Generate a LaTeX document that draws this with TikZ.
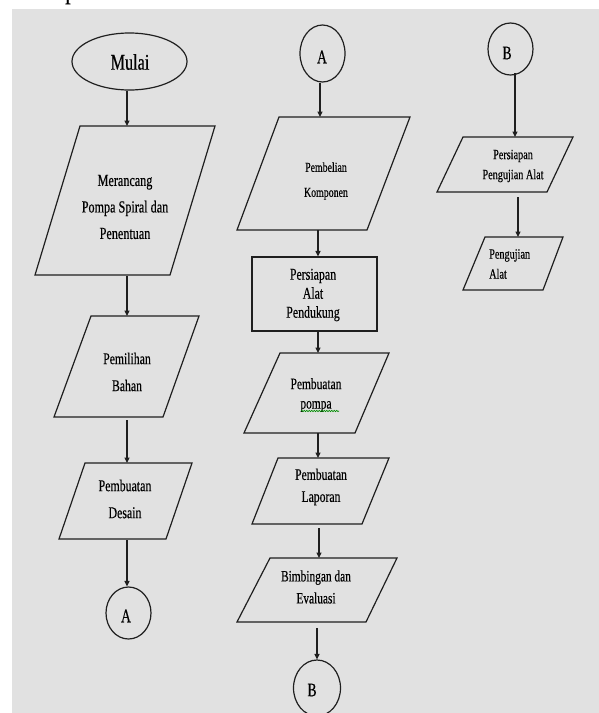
\documentclass[tikz,border=0pt]{standalone}
\usepackage{fontspec}
\setmainfont{Liberation Serif}[FakeStretch=0.72,FakeBold=0.35]
\usetikzlibrary{arrows.meta,shapes.geometric,decorations.pathmorphing}
\newcommand\fsz[2]{\fontsize{#1}{#2}\selectfont}
\newcommand\flowpara[6]{\draw[ln] (#1,#3) -- (#2,#3) -- (#5,#6) -- (#4,#6) -- cycle;}
\definecolor{bggray}{HTML}{E1E1E1}
\tikzset{
  ln/.style={line width=1.2pt, draw=black!88, line join=miter},
  arr/.style={line width=1.2pt, draw=black!88, -{Triangle[length=5.5pt,width=5pt]}},
  txt/.style={align=center, inner sep=0pt, text=black},
  conn/.style={ellipse, ln, inner sep=0pt},
}
\begin{document}
\begin{tikzpicture}[x=1pt,y=-1pt]
\useasboundingbox (0,0) rectangle (599,713);
\fill[white] (0,0) rectangle (599,713);
\fill[bggray] (12,9) rectangle (599,713);
\begin{scope}
\clip (0,0) rectangle (599,9);
\node[anchor=base west, inner sep=0pt, font=\fsz{30}{32}] (ptop) at (65,-2) {p};
\end{scope}

% ---------- left column ----------
\node[conn, minimum width=115pt, minimum height=57pt] (mulai) at (129.5,61.5) {};
\node[txt, font=\fsz{22.5}{24}] (tmulai) at (130,62) {Mulai};

\flowpara{80}{215}{126}{35}{170}{275}
\coordinate (p1t) at (127,126);
\coordinate (p1b) at (127,276);
\node[txt, font=\fsz{16.9}{26.5}] (t1) at (125,207) {Merancang\\Pompa Spiral dan\\Penentuan};

\flowpara{91}{199}{316}{54}{163}{417}
\coordinate (p2t) at (127,316);
\coordinate (p2b) at (127,420);
\node[txt, font=\fsz{16.3}{27}] (t2) at (127,372) {Pemilihan\\Bahan};

\flowpara{85}{192}{463}{59}{166}{539}
\coordinate (p3t) at (127,463);
\coordinate (p3b) at (127,540);
\node[txt, font=\fsz{16.5}{27}] (t3) at (125,499) {Pembuatan\\Desain};

\node[conn, minimum width=45pt, minimum height=52pt] (ca1) at (128.5,613) {};
\node[txt, font=\fsz{19}{20}] (ta1) at (126,616) {A};

\draw[arr] (p1t |- mulai.south) -- (p1t);
\draw[arr] (p1b) -- (p2t);
\draw[arr] (p2b) -- (p3t);
\draw[arr] (p3b) -- (p3b |- ca1.north);

% ---------- middle column ----------
\node[conn, minimum width=45pt, minimum height=57pt] (ca2) at (322.5,53.5) {};
\node[txt, font=\fsz{19}{20}] (ta2) at (322,57) {A};

\flowpara{279}{410}{117}{237}{367}{230}
\coordinate (p4t) at (320,117);
\coordinate (p4b) at (318,230);
\node[txt, font=\fsz{13.7}{25}] (t4) at (326,181) {Pembelian\\Komponen};

\node[ln, draw, minimum width=125pt, minimum height=74pt, inner sep=0pt] (rect) at (314.5,294) {};
\node[txt, font=\fsz{16.5}{19}] (t5) at (313,295) {Persiapan\\Alat\\Pendukung};

\flowpara{280}{389}{353}{244}{355}{433}
\coordinate (p5t) at (318,353);
\coordinate (p5b) at (318,433);
\node[txt, font=\fsz{15.9}{19.5}] (t6) at (316,395) {Pembuatan\\pompa};
\draw[green!55!black, line width=0.6pt, decorate, decoration={snake, amplitude=0.7pt, segment length=2.5pt}] (301,411) -- (339,411);

\flowpara{278}{389}{458}{252}{362}{524}
\coordinate (p6t) at (318,458);
\coordinate (p6b) at (319,528);
\node[txt, font=\fsz{16.2}{22}] (t7) at (321,487) {Pembuatan\\Laporan};

\flowpara{270}{397}{558}{237}{366}{622}
\coordinate (p7t) at (319,558);
\coordinate (p7b) at (317,628);
\node[txt, font=\fsz{15.8}{22}] (t8) at (316,587) {Bimbingan dan\\Evaluasi};

\node[conn, minimum width=47pt, minimum height=56pt] (cb1) at (317,688) {};
\node[txt, font=\fsz{19}{20}] (tb1) at (312,690) {B};

\draw[arr] (ca2.south -| p4t) -- (p4t);
\draw[arr] (p4b) -- (p4b |- rect.north);
\draw[arr] (p5t |- rect.south) -- (p5t);
\draw[arr] (p5b) -- (p6t);
\draw[arr] (p6b) -- (p7t);
\draw[arr] (p7b) -- (p7b |- cb1.north);

% ---------- right column ----------
\node[conn, minimum width=45pt, minimum height=52pt] (cb2) at (510.5,49) {};
\node[txt, font=\fsz{19}{20}] (tb2) at (507,53) {B};

\flowpara{463}{573}{137}{437}{547}{192}
\coordinate (p8t) at (515,137);
\coordinate (p8b) at (518,197);
\node[txt, font=\fsz{14.2}{20}] (t9) at (513,166) {Persiapan\\Pengujian Alat};

\flowpara{485}{563}{237}{463}{543}{290}
\coordinate (p9t) at (518,237);
\node[txt, align=left, anchor=west, font=\fsz{14.2}{20}] (t10) at (489,264) {Pengujian\\Alat};

\coordinate (b2s) at (515,73);
\draw[arr] (b2s) -- (p8t);
\draw[arr] (p8b) -- (p9t);
\end{tikzpicture}
\end{document}
